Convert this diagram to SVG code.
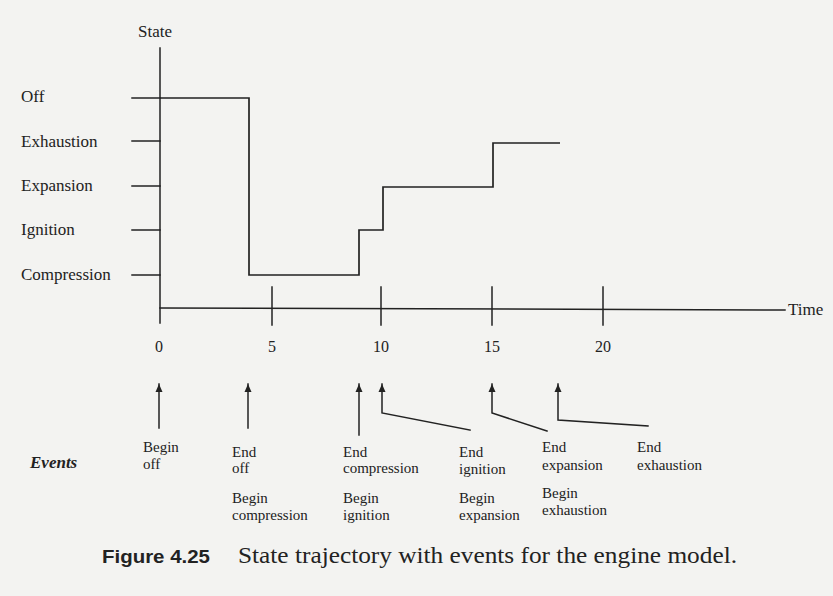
<svg xmlns="http://www.w3.org/2000/svg" width="833" height="596" viewBox="0 0 833 596">
  <defs>
    <style>
      .ln { stroke: #222222; stroke-width: 1.5; fill: none; stroke-linecap: square; }
      .traj { stroke: #222222; stroke-width: 1.7; fill: none; }
      .ax { font-family: "Liberation Serif", "Times New Roman", serif; font-size: 17px; fill: #222222; }
      .num { font-family: "Liberation Serif", "Times New Roman", serif; font-size: 16px; fill: #222222; }
      .ev { font-family: "Liberation Serif", "Times New Roman", serif; font-size: 15px; fill: #222222; }
      .evt { font-family: "Liberation Serif", "Times New Roman", serif; font-size: 17px; font-weight: bold; font-style: italic; fill: #222222; }
      .capb { font-family: "Liberation Sans", Arial, sans-serif; font-size: 19px; font-weight: bold; fill: #222222; }
      .cap { font-family: "Liberation Serif", "Times New Roman", serif; font-size: 23px; fill: #222222; }
    </style>
    <marker id="ah" viewBox="0 0 8 10" refX="8" refY="5" markerWidth="8" markerHeight="10" markerUnits="userSpaceOnUse" orient="auto">
      <path d="M0,1.5 L8,5 L0,8.5 Z" fill="#222222"/>
    </marker>
  </defs>

  <rect x="0" y="0" width="833" height="596" fill="#f3f3f1"/>

  <g id="axes">
    <line class="ln" x1="160" y1="48" x2="160" y2="323"/>
    <line class="ln" x1="160" y1="308" x2="785" y2="310"/>
    <line class="ln" x1="132" y1="98" x2="160" y2="98"/>
    <line class="ln" x1="132" y1="141" x2="160" y2="141"/>
    <line class="ln" x1="132" y1="186" x2="160" y2="186"/>
    <line class="ln" x1="132" y1="230" x2="160" y2="230"/>
    <line class="ln" x1="132" y1="275" x2="160" y2="275"/>
    <line class="ln" x1="272" y1="287" x2="272" y2="325"/>
    <line class="ln" x1="381" y1="287" x2="381" y2="325"/>
    <line class="ln" x1="492" y1="287" x2="492" y2="325"/>
    <line class="ln" x1="603" y1="287" x2="603" y2="325"/>
    <text class="ax" x="138" y="37">State</text>
    <text class="ax" x="788" y="315" font-size="16">Time</text>
  </g>

  <g id="state-labels">
    <text class="ax" x="21" y="102">Off</text>
    <text class="ax" x="21" y="147">Exhaustion</text>
    <text class="ax" x="21" y="191">Expansion</text>
    <text class="ax" x="21" y="235">Ignition</text>
    <text class="ax" x="21" y="280">Compression</text>
  </g>

  <g id="time-labels">
    <text class="num" x="159" y="352" text-anchor="middle">0</text>
    <text class="num" x="272" y="352" text-anchor="middle">5</text>
    <text class="num" x="381" y="352" text-anchor="middle">10</text>
    <text class="num" x="492" y="352" text-anchor="middle">15</text>
    <text class="num" x="603" y="352" text-anchor="middle">20</text>
  </g>

  <g id="trajectory">
    <polyline class="traj" points="160,98 249,98 249,275 359,275 359,230 383,230 383,187 493,187 493,143 560,143"/>
  </g>

  <g id="connectors">
    <line class="ln" x1="159" y1="428" x2="159" y2="384" marker-end="url(#ah)"/>
    <line class="ln" x1="248" y1="428" x2="248" y2="384" marker-end="url(#ah)"/>
    <line class="ln" x1="359" y1="435" x2="359" y2="384" marker-end="url(#ah)"/>
    <polyline class="ln" points="470,430 382,413 382,384" marker-end="url(#ah)"/>
    <polyline class="ln" points="547,431 492,413 492,384" marker-end="url(#ah)"/>
    <polyline class="ln" points="648,426 558,420 558,384" marker-end="url(#ah)"/>
  </g>

  <g id="events-label">
    <text class="evt" x="30" y="468">Events</text>
  </g>

  <g id="ev-begin-off">
    <text class="ev" x="143" y="452">Begin</text>
    <text class="ev" x="143" y="469">off</text>
  </g>
  <g id="ev-end-off">
    <text class="ev" x="232" y="457">End</text>
    <text class="ev" x="232" y="473">off</text>
    <text class="ev" x="232" y="503">Begin</text>
    <text class="ev" x="232" y="520">compression</text>
  </g>
  <g id="ev-end-compression">
    <text class="ev" x="343" y="457">End</text>
    <text class="ev" x="343" y="473">compression</text>
    <text class="ev" x="343" y="503">Begin</text>
    <text class="ev" x="343" y="520">ignition</text>
  </g>
  <g id="ev-end-ignition">
    <text class="ev" x="459" y="457">End</text>
    <text class="ev" x="459" y="474">ignition</text>
    <text class="ev" x="459" y="503">Begin</text>
    <text class="ev" x="459" y="520">expansion</text>
  </g>
  <g id="ev-end-expansion">
    <text class="ev" x="542" y="452">End</text>
    <text class="ev" x="542" y="470">expansion</text>
    <text class="ev" x="542" y="498">Begin</text>
    <text class="ev" x="542" y="515">exhaustion</text>
  </g>
  <g id="ev-end-exhaustion">
    <text class="ev" x="637" y="452">End</text>
    <text class="ev" x="637" y="470">exhaustion</text>
  </g>

  <g id="caption">
    <text class="capb" x="102" y="563" textLength="108" lengthAdjust="spacingAndGlyphs">Figure 4.25</text>
    <text class="cap" x="238" y="563" textLength="499" lengthAdjust="spacingAndGlyphs">State trajectory with events for the engine model.</text>
  </g>
</svg>
